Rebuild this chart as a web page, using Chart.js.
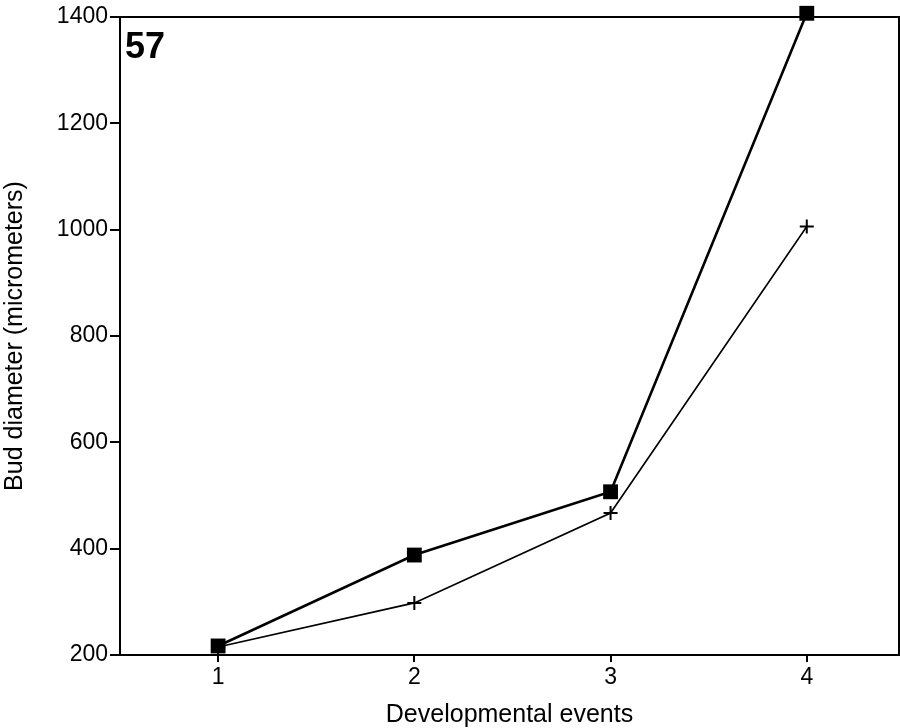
<!DOCTYPE html>
<html>
<head>
<meta charset="utf-8">
<script src="https://cdn.jsdelivr.net/npm/chart.js@4/dist/chart.umd.min.js"></script>
<style>
html,body{margin:0;padding:0;background:#fff;}
#wrap{width:900px;height:728px;position:relative;}
</style>
</head>
<body>
<div id="wrap"><canvas id="c" width="900" height="728"></canvas></div>
<script>
const events = [1, 2, 3, 4];
const squareSeries = [217, 388, 507, 1407];
const crossSeries = [215, 298, 467, 1006];
const yTicks = [200, 400, 600, 800, 1000, 1200, 1400];
const panelLabel = "57";
const xTitle = "Developmental events";
const yTitle = "Bud diameter (micrometers)";

const FONT = "'Liberation Sans', Arial, Helvetica, sans-serif";

const framePlugin = {
  id: 'frame',
  afterDraw(chart) {
    const {ctx, chartArea: a} = chart;
    ctx.save();
    ctx.strokeStyle = '#000';
    ctx.lineWidth = 2;
    ctx.strokeRect(a.left, a.top, a.right - a.left, a.bottom - a.top);
    ctx.fillStyle = '#000';
    ctx.font = "bold 36px " + FONT;
    ctx.textBaseline = 'alphabetic';
    ctx.textAlign = 'left';
    ctx.fillText(panelLabel, a.left + 5, a.top + 41);
    ctx.restore();
  }
};

new Chart(document.getElementById('c'), {
  type: 'line',
  data: {
    datasets: [
      {
        data: events.map((e, i) => ({x: e, y: squareSeries[i]})),
        borderColor: '#000',
        backgroundColor: '#000',
        borderWidth: 2.6,
        pointStyle: 'rect',
        pointRadius: 10.5,
        pointBorderWidth: 0,
        tension: 0,
        clip: false
      },
      {
        data: events.map((e, i) => ({x: e, y: crossSeries[i]})),
        borderColor: '#000',
        backgroundColor: '#000',
        borderWidth: 1.6,
        pointStyle: 'cross',
        pointRadius: 7,
        pointBorderWidth: 2,
        tension: 0,
        clip: false
      }
    ]
  },
  options: {
    responsive: false,
    animation: false,
    layout: {autoPadding: false, padding: {top: 17, right: 1, left: 0, bottom: 0}},
    plugins: {legend: {display: false}, tooltip: {enabled: false}},
    scales: {
      x: {
        type: 'linear',
        min: 0.5,
        max: 4.47,
        afterBuildTicks(s) { s.ticks = events.map(v => ({value: v})); },
        afterFit(s) { s.height = 73; s.paddingLeft = 0; s.paddingRight = 0; },
        grid: {display: true, drawOnChartArea: false, drawTicks: true, tickLength: 7, color: '#000', lineWidth: 2},
        border: {display: true, color: '#000', width: 2},
        ticks: {color: '#000', font: {family: FONT, size: 23}, padding: 2, maxRotation: 0, callback: v => String(v)},
        title: {display: true, text: xTitle, color: '#000', font: {family: FONT, size: 25}, padding: {top: 0, bottom: -2}}
      },
      y: {
        type: 'linear',
        min: 200,
        max: 1400,
        afterBuildTicks(s) { s.ticks = yTicks.map(v => ({value: v})); },
        afterFit(s) { s.width = 120; s.paddingTop = 0; s.paddingBottom = 0; },
        grid: {display: true, drawOnChartArea: false, drawTicks: true, tickLength: 10, color: '#000', lineWidth: 2},
        border: {display: true, color: '#000', width: 2},
        ticks: {color: '#000', font: {family: FONT, size: 23}, padding: 2, callback: v => String(v)},
        title: {display: true, text: yTitle, color: '#000', font: {family: FONT, size: 25}, padding: {top: 0, bottom: 4}}
      }
    }
  },
  plugins: [framePlugin]
});
</script>
</body>
</html>
